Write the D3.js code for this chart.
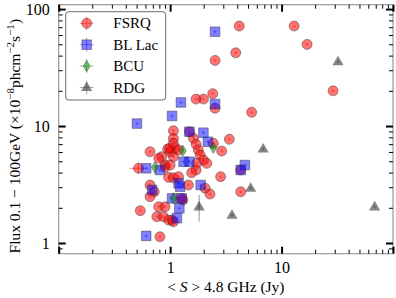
<!DOCTYPE html>
<html>
<head>
  <meta charset="UTF-8">
  <title>Flux vs radio flux</title>
  <style>
    body { margin: 0; background: #fff; }
    svg text { font-family: "Liberation Serif", "DejaVu Serif", serif; fill: #000; }
  </style>
</head>
<body>
<script src="https://d3js.org/d3.v7.min.js"></script>
<script>
// FSRQ: mean 4.8 GHz flux (Jy) and 0.1-100 GeV flux (1e-8 ph cm-2 s-1)
const fsrqS = [4.17, 12.97, 16.95, 3.88, 2.53, 29.0, 2.41, 1.99, 1.71, 2.53,
  5.39, 3.40, 2.44, 2.90, 4.30, 2.84, 2.06, 2.28, 4.30, 1.07,
  1.49, 1.07, 0.95, 1.11, 1.00, 1.07, 1.62, 1.71, 1.79, 1.86,
  1.99, 2.13, 0.84, 0.90, 1.73, 0.66, 0.79, 0.99, 1.07, 1.19,
  0.52, 0.90, 1.00, 1.71, 1.56, 0.97, 1.07, 1.19, 1.46, 0.66,
  0.72, 0.66, 1.30, 0.54, 0.76, 0.87, 1.04, 0.79, 0.90, 0.97,
  1.07, 0.81, 1.27];
const fsrqF = [71.6, 71.6, 49.9, 42.3, 36.4, 20.0, 18.9, 17.0, 17.0, 14.2,
  13.1, 7.7, 7.11, 6.11, 4.21, 3.69, 2.94, 2.62, 2.74, 9.12,
  8.94, 7.85, 6.36, 6.45, 6.03, 5.46, 7.85, 6.98, 6.24, 5.65,
  5.12, 4.80, 5.46, 4.64, 4.80, 6.03, 5.30, 6.45, 7.11, 6.24,
  4.35, 4.44, 4.64, 4.21, 3.99, 3.64, 3.61, 3.69, 3.13, 3.13,
  2.74, 2.49, 2.33, 1.89, 1.68, 1.68, 1.57, 2.04, 2.04, 1.57,
  1.52, 1.13, 2.41];

const bllacS = [2.53, 2.53, 1.25, 1.04, 0.504, 1.49, 1.99, 2.18, 1.32, 1.49,
  0.61, 0.81, 4.69, 4.30, 1.88, 1.19, 1.23, 0.69, 1.04, 1.27,
  1.21, 1.15, 0.61];
const bllacF = [64, 15.4, 15.9, 12.2, 10.5, 8.94, 8.77, 7.34, 4.95, 4.95,
  4.35, 4.21, 4.64, 4.21, 3.13, 3.24, 3.03, 2.84, 2.41, 2.41,
  1.98, 1.63, 1.15];

const bcuS = [2.44, 1.30, 0.73, 1.07];
const bcuF = [6.53, 6.15, 4.44, 2.41];

const rdgS = [32.1, 6.84, 5.28, 3.59, 68.4, 1.82];
const rdgF = [35.5, 6.36, 2.94, 1.73, 2.04, 2.04];

// the few error bars that are larger than the markers
const errS   = [0.52, 1.82];
const errF   = [4.35, 2.04];
const errSlo = [0.43, 1.82];
const errShi = [0.60, 1.82];
const errFlo = [3.9, 1.52];
const errFhi = [4.9, 2.57];
const errCol = ['#f55', '#666'];

const xTicks = [1, 10];
const yTicks = [1, 10, 100];

const width = 396, height = 298;
const mLeft = 58.7, mRight = 393, mTop = 4.7, mBottom = 253.7;

const svg = d3.select('body').append('svg')
  .attr('width', width)
  .attr('height', height);

const x = d3.scaleLog().domain([0.1, 100]).range([mLeft, mRight]);
const y = d3.scaleLog().domain([0.81, 109]).range([mBottom, mTop]);

// minor ticks
const xMinor = [];
[0.1, 1, 10].forEach(function (d) {
  for (let k = 2; k <= 9; k++) xMinor.push(d * k);
});
const yMinor = [0.9];
[1, 10].forEach(function (d) {
  for (let k = 2; k <= 9; k++) yMinor.push(d * k);
});
const xMajor = [0.1, 1, 10, 100];
const yMajor = [1, 10, 100];

// frame
svg.append('rect')
  .attr('x', mLeft).attr('y', mTop)
  .attr('width', mRight - mLeft).attr('height', mBottom - mTop)
  .attr('fill', 'none')
  .attr('stroke', '#999')
  .attr('stroke-width', 1.2);

function tickGroup(axis, tx, ty, w) {
  const g = svg.append('g').attr('transform', 'translate(' + tx + ',' + ty + ')').call(axis);
  g.select('.domain').remove();
  g.selectAll('.tick line').attr('stroke', '#000').attr('stroke-width', w);
  return g;
}

// bottom / top
tickGroup(d3.axisBottom(x).tickValues(xMinor).tickSize(-4).tickFormat(''), 0, mBottom, 1);
tickGroup(d3.axisTop(x).tickValues(xMinor).tickSize(-4).tickFormat(''), 0, mTop, 1);
tickGroup(d3.axisTop(x).tickValues(xMajor).tickSize(-7).tickFormat(''), 0, mTop, 2);
const gx = tickGroup(d3.axisBottom(x).tickValues(xMajor).tickSize(-7)
  .tickFormat(function (d) { return xTicks.indexOf(d) >= 0 ? d3.format('d')(d) : ''; }), 0, mBottom, 2);
gx.selectAll('.tick text').attr('font-size', '16px').attr('y', 0).attr('dy', 0)
  .attr('transform', 'translate(0,19)')
  .style('font-family', '"Liberation Serif", serif');

// left / right
tickGroup(d3.axisLeft(y).tickValues(yMinor).tickSize(-4).tickFormat(''), mLeft, 0, 1);
tickGroup(d3.axisRight(y).tickValues(yMinor).tickSize(-4).tickFormat(''), mRight, 0, 1);
tickGroup(d3.axisRight(y).tickValues(yMajor).tickSize(-7).tickFormat(''), mRight, 0, 2);
const gy = tickGroup(d3.axisLeft(y).tickValues(yMajor).tickSize(-7)
  .tickFormat(function (d) { return yTicks.indexOf(d) >= 0 ? d3.format('d')(d) : ''; }), mLeft, 0, 2);
gy.selectAll('.tick text').attr('font-size', '16px').attr('x', -9)
  .style('font-family', '"Liberation Serif", serif');

// axis labels
const xl = svg.append('text')
  .attr('x', (mLeft + mRight) / 2).attr('y', 292)
  .attr('text-anchor', 'middle')
  .attr('font-size', '15.5px');
xl.append('tspan').text('< ');
xl.append('tspan').attr('font-style', 'italic').text('S');
xl.append('tspan').text(' > 4.8 GHz (Jy)');

const yl = svg.append('text')
  .attr('transform', 'translate(20,' + ((mTop + mBottom) / 2 + 7) + ') rotate(-90)')
  .attr('text-anchor', 'middle')
  .attr('font-size', '15.5px');
yl.append('tspan').text('Flux 0.1 \u2212 100GeV (\u00d710');
yl.append('tspan').attr('font-size', '11px').attr('dy', -6).text('\u22128');
yl.append('tspan').attr('dy', 6).text('phcm');
yl.append('tspan').attr('font-size', '11px').attr('dy', -6).text('\u22122');
yl.append('tspan').attr('dy', 6).text('s');
yl.append('tspan').attr('font-size', '11px').attr('dy', -6).text('\u22121');
yl.append('tspan').attr('dy', 6).text(')');

// marker shapes
const shapes = {
  circle: 'M5,0A5,5 0 1,1 -5,0A5,5 0 1,1 5,0Z',
  square: 'M-4.8,-4.8H4.8V4.8H-4.8Z',
  diamond: 'M0,-5.6L3.4,0L0,5.6L-3.4,0Z',
  triangle: 'M0,-6L5.6,3.6L-5.6,3.6Z'
};

const series = [
  { name: 'FSRQ', s: fsrqS, f: fsrqF, shape: 'circle', fill: 'red', op: 0.55, edge: '#333', cross: '#e33' },
  { name: 'BL Lac', s: bllacS, f: bllacF, shape: 'square', fill: 'blue', op: 0.5, edge: '#333', cross: '#33e' },
  { name: 'BCU', s: bcuS, f: bcuF, shape: 'diamond', fill: 'green', op: 0.5, edge: '#333', cross: '#292' },
  { name: 'RDG', s: rdgS, f: rdgF, shape: 'triangle', fill: '#333', op: 0.6, edge: 'none', cross: '#555' }
];

const plot = svg.append('g');

// large error bars
plot.selectAll('line.ex').data(d3.range(errS.length)).enter().append('line')
  .attr('x1', function (i) { return x(errSlo[i]); })
  .attr('x2', function (i) { return x(errShi[i]); })
  .attr('y1', function (i) { return y(errF[i]); })
  .attr('y2', function (i) { return y(errF[i]); })
  .attr('stroke', function (i) { return errCol[i]; }).attr('stroke-opacity', 0.7);
plot.selectAll('line.ey').data(d3.range(errS.length)).enter().append('line')
  .attr('x1', function (i) { return x(errS[i]); })
  .attr('x2', function (i) { return x(errS[i]); })
  .attr('y1', function (i) { return y(errFlo[i]); })
  .attr('y2', function (i) { return y(errFhi[i]); })
  .attr('stroke', function (i) { return errCol[i]; }).attr('stroke-opacity', 0.7);

series.forEach(function (ser) {
  const pts = d3.zip(ser.s, ser.f);
  const g = plot.selectAll(null).data(pts).enter().append('g')
    .attr('transform', function (d) { return 'translate(' + x(d[0]) + ',' + y(d[1]) + ')'; });
  g.append('path')
    .attr('d', shapes[ser.shape])
    .attr('fill', ser.fill).attr('fill-opacity', ser.op)
    .attr('stroke', ser.edge).attr('stroke-opacity', 0.45).attr('stroke-width', 1);
  g.append('path')
    .attr('d', 'M-1.5,0H1.5M0,-1.5V1.5')
    .attr('stroke', ser.cross).attr('stroke-opacity', 0.8).attr('stroke-width', 0.8);
});

// legend
const lg = svg.append('g');
lg.append('rect')
  .attr('x', 65.7).attr('y', 11.7).attr('width', 100).attr('height', 88.3)
  .attr('rx', 3).attr('ry', 3)
  .attr('fill', '#fff').attr('fill-opacity', 0.8)
  .attr('stroke', '#444').attr('stroke-width', 0.8);
const rows = lg.selectAll('g.row').data(series).enter().append('g')
  .attr('transform', function (d, i) { return 'translate(86.7,' + (23.3 + i * 21.4) + ')'; });
rows.append('path')
  .attr('d', 'M-7,0H7M0,-7V7')
  .attr('stroke', function (d) { return d.cross; }).attr('stroke-opacity', 0.5);
rows.append('path')
  .attr('d', function (d) { return shapes[d.shape]; })
  .attr('fill', function (d) { return d.fill; })
  .attr('fill-opacity', function (d) { return d.op; })
  .attr('stroke', function (d) { return d.edge; }).attr('stroke-opacity', 0.45);
rows.append('text')
  .attr('x', 26.6).attr('y', 5)
  .attr('font-size', '15px')
  .text(function (d) { return d.name; });
</script>
</body>
</html>
